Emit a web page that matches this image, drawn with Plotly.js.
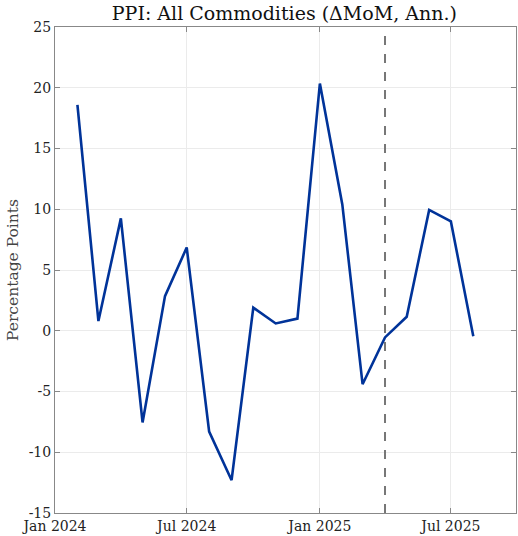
<!DOCTYPE html>
<html><head><meta charset="utf-8">
<script src="https://cdn.plot.ly/plotly-3.0.1.min.js"></script>
<style>html,body{margin:0;padding:0;background:#fff}#chart{width:518px;height:536px}</style>
</head><body><div id="chart"></div>
<script>
const months = ["2024-02-01","2024-03-01","2024-04-01","2024-05-01","2024-06-01","2024-07-01","2024-08-01","2024-09-01","2024-10-01","2024-11-01","2024-12-01","2025-01-01","2025-02-01","2025-03-01","2025-04-01","2025-05-01","2025-06-01","2025-07-01","2025-08-01"];
const ppiMoMAnn = [18.6, 0.8, 9.25, -7.55, 2.85, 6.85, -8.3, -12.3, 1.9, 0.6, 1.0, 20.35, 10.4, -4.4, -0.55, 1.15, 9.95, 9.0, -0.45];
const markerDate = "2025-04-01";
const xTickVals = ["2024-01-01","2024-07-01","2025-01-01","2025-07-01"];
const xTickText = ["Jan 2024","Jul 2024","Jan 2025","Jul 2025"];
const yTickVals = [-15,-10,-5,0,5,10,15,20,25];
const yTickText = ["-15","-10","-5","0","5","10","15","20","25"];

const font = "'DejaVu Serif', 'Liberation Serif', serif";
Plotly.newPlot("chart", [{
  x: months, y: ppiMoMAnn, type: "scatter", mode: "lines",
  line: {color: "#003399", width: 2.6}, hoverinfo: "skip"
}], {
  width: 518, height: 536,
  margin: {l: 55, r: 2, t: 27, b: 23},
  paper_bgcolor: "#fff", plot_bgcolor: "#fff",
  showlegend: false,
  font: {family: font, size: 14, color: "#222"},
  title: {text: "PPI: All Commodities (ΔMoM, Ann.)", font: {family: font, size: 19, color: "#111"}, x: 0.549, xanchor: "center", y: 0.988, yanchor: "top"},
  xaxis: {
    type: "date", range: ["2024-01-01", "2025-09-29"],
    tickvals: xTickVals, ticktext: xTickText,
    ticks: "inside", ticklen: 5, tickcolor: "#888", tickwidth: 1,
    showline: true, linecolor: "#888", linewidth: 1, mirror: "ticks",
    showgrid: true, gridcolor: "#ebebeb", gridwidth: 1, zeroline: false,
    tickfont: {family: font, size: 14, color: "#222"}, ticklabelstandoff: 0
  },
  yaxis: {
    range: [-15, 25], tickvals: yTickVals, ticktext: yTickText,
    ticks: "inside", ticklen: 5, tickcolor: "#888", tickwidth: 1,
    showline: true, linecolor: "#888", linewidth: 1, mirror: "ticks",
    showgrid: true, gridcolor: "#ebebeb", gridwidth: 1, zeroline: false,
    tickfont: {family: font, size: 14, color: "#222"},
    title: {text: "Percentage Points", font: {family: font, size: 15.5, color: "#444"}, standoff: 6}
  },
  shapes: [{
    type: "line", xref: "x", yref: "paper", x0: markerDate, x1: markerDate, y0: 0, y1: 1,
    line: {color: "#777", width: 2, dash: "dash"}
  }]
}, {staticPlot: true});
</script></body></html>
